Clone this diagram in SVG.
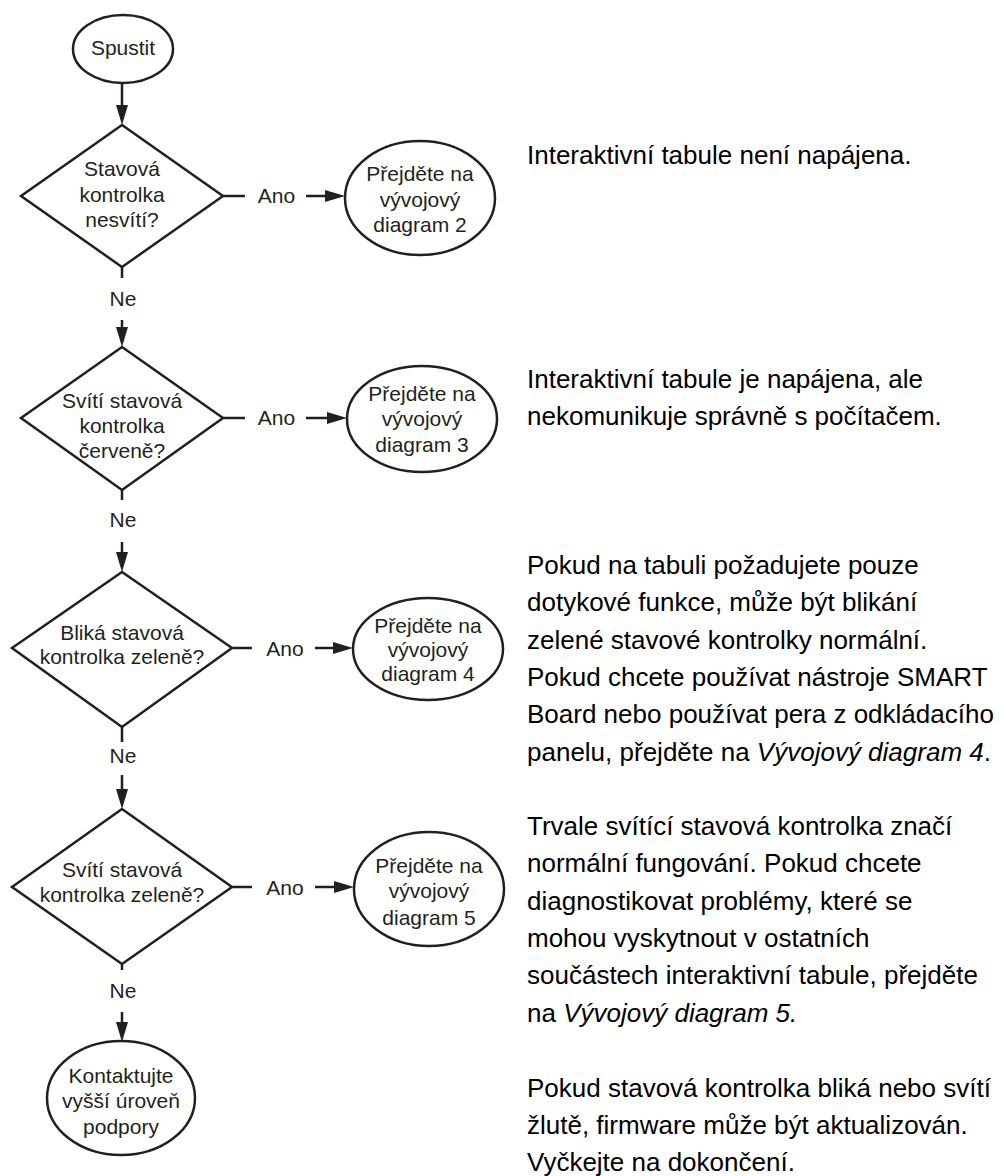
<svg xmlns="http://www.w3.org/2000/svg" width="1004" height="1176" viewBox="0 0 1004 1176">
<style>
.shape{fill:#ffffff;stroke:#231f20;stroke-width:2.5}
.conn{fill:none;stroke:#231f20;stroke-width:2.5}
.nt{font-family:"Liberation Sans",Arial,sans-serif;font-size:21px;fill:#231f20;text-anchor:middle}
.pt{font-family:"Liberation Sans",Arial,sans-serif;font-size:26px;fill:#000000}
.it{font-style:italic}
</style>
<defs>
<marker id="ah" markerWidth="20" markerHeight="12" refX="12" refY="6" orient="auto" markerUnits="userSpaceOnUse">
<path d="M0,0 L20,6 L0,12 z" fill="#231f20"/>
</marker>
</defs>
<rect width="1004" height="1176" fill="#ffffff"/>

<g id="connectors">
<line class="conn" x1="122" y1="83" x2="122" y2="117" marker-end="url(#ah)"/>
<line class="conn" x1="223" y1="196" x2="245" y2="196"/>
<text class="nt" x="276.5" y="203">Ano</text>
<line class="conn" x1="306" y1="196" x2="337" y2="196" marker-end="url(#ah)"/>
<line class="conn" x1="122" y1="267" x2="122" y2="278"/>
<text class="nt" x="123" y="306">Ne</text>
<line class="conn" x1="122" y1="320" x2="122" y2="339" marker-end="url(#ah)"/>

<line class="conn" x1="223" y1="418" x2="245" y2="418"/>
<text class="nt" x="276.5" y="425">Ano</text>
<line class="conn" x1="306" y1="418" x2="339" y2="418" marker-end="url(#ah)"/>
<line class="conn" x1="122" y1="490" x2="122" y2="500"/>
<text class="nt" x="123" y="527">Ne</text>
<line class="conn" x1="122" y1="542" x2="122" y2="564" marker-end="url(#ah)"/>

<line class="conn" x1="232" y1="648" x2="252" y2="648"/>
<text class="nt" x="285" y="656">Ano</text>
<line class="conn" x1="315" y1="648" x2="345" y2="648" marker-end="url(#ah)"/>
<line class="conn" x1="122" y1="727" x2="122" y2="742"/>
<text class="nt" x="123" y="763">Ne</text>
<line class="conn" x1="122" y1="775" x2="122" y2="801" marker-end="url(#ah)"/>

<line class="conn" x1="232" y1="887" x2="252" y2="887"/>
<text class="nt" x="285" y="895">Ano</text>
<line class="conn" x1="315" y1="887" x2="346" y2="887" marker-end="url(#ah)"/>
<line class="conn" x1="122" y1="964" x2="122" y2="970"/>
<text class="nt" x="123" y="998">Ne</text>
<line class="conn" x1="122" y1="1012" x2="122" y2="1034" marker-end="url(#ah)"/>
</g>

<g id="start">
<ellipse class="shape" cx="123" cy="49" rx="50" ry="34"/>
<text class="nt" x="123" y="55">Spustit</text>
</g>

<g id="decision1">
<polygon class="shape" points="122,125 223,196 122,267 21,196"/>
<text class="nt" x="122" y="176">Stavová</text>
<text class="nt" x="122" y="201.5">kontrolka</text>
<text class="nt" x="122" y="227">nesvítí?</text>
</g>

<g id="goto2">
<ellipse class="shape" cx="420" cy="198" rx="75" ry="57"/>
<text class="nt" x="420" y="181">Přejděte na</text>
<text class="nt" x="420" y="206.5">vývojový</text>
<text class="nt" x="420" y="232">diagram 2</text>
</g>

<g id="decision2">
<polygon class="shape" points="122,347 223,418 122,490 21,418"/>
<text class="nt" x="122" y="408">Svítí stavová</text>
<text class="nt" x="122" y="433">kontrolka</text>
<text class="nt" x="122" y="458">červeně?</text>
</g>

<g id="goto3">
<ellipse class="shape" cx="422" cy="419" rx="75" ry="53"/>
<text class="nt" x="422" y="401">Přejděte na</text>
<text class="nt" x="422" y="426">vývojový</text>
<text class="nt" x="422" y="452">diagram 3</text>
</g>

<g id="decision3">
<polygon class="shape" points="122,572 232,648 122,727 12,648"/>
<text class="nt" x="122" y="640">Bliká stavová</text>
<text class="nt" x="122" y="664">kontrolka zeleně?</text>
</g>

<g id="goto4">
<ellipse class="shape" cx="428" cy="649" rx="75" ry="51"/>
<text class="nt" x="428" y="633">Přejděte na</text>
<text class="nt" x="428" y="657">vývojový</text>
<text class="nt" x="428" y="681">diagram 4</text>
</g>

<g id="decision4">
<polygon class="shape" points="122,809 232,887 122,964 12,887"/>
<text class="nt" x="122" y="877">Svítí stavová</text>
<text class="nt" x="122" y="902">kontrolka zeleně?</text>
</g>

<g id="goto5">
<ellipse class="shape" cx="429" cy="889" rx="75" ry="57"/>
<text class="nt" x="429" y="873">Přejděte na</text>
<text class="nt" x="429" y="898">vývojový</text>
<text class="nt" x="429" y="925">diagram 5</text>
</g>

<g id="support">
<ellipse class="shape" cx="121" cy="1098" rx="74" ry="57"/>
<text class="nt" x="121" y="1083">Kontaktujte</text>
<text class="nt" x="121" y="1108">vyšší úroveň</text>
<text class="nt" x="121" y="1134">podpory</text>
</g>

<g id="notes">
<text class="pt" x="527" y="164">Interaktivní tabule není napájena.</text>
<text class="pt" x="527" y="388">Interaktivní tabule je napájena, ale</text>
<text class="pt" x="527" y="425">nekomunikuje správně s počítačem.</text>
<text class="pt" x="527" y="574">Pokud na tabuli požadujete pouze</text>
<text class="pt" x="527" y="611">dotykové funkce, může být blikání</text>
<text class="pt" x="527" y="648.5">zelené stavové kontrolky normální.</text>
<text class="pt" x="527" y="686">Pokud chcete používat nástroje SMART</text>
<text class="pt" x="527" y="723">Board nebo používat pera z odkládacího</text>
<text class="pt" x="527" y="760.5">panelu, přejděte na <tspan class="it">Vývojový diagram 4</tspan>.</text>
<text class="pt" x="527" y="835">Trvale svítící stavová kontrolka značí</text>
<text class="pt" x="527" y="872">normální fungování. Pokud chcete</text>
<text class="pt" x="527" y="909.5">diagnostikovat problémy, které se</text>
<text class="pt" x="527" y="947">mohou vyskytnout v ostatních</text>
<text class="pt" x="527" y="984">součástech interaktivní tabule, přejděte</text>
<text class="pt" x="527" y="1021.5">na <tspan class="it">Vývojový diagram 5.</tspan></text>
<text class="pt" x="527" y="1096.5">Pokud stavová kontrolka bliká nebo svítí</text>
<text class="pt" x="527" y="1134">žlutě, firmware může být aktualizován.</text>
<text class="pt" x="527" y="1171">Vyčkejte na dokončení.</text>
</g>
</svg>
